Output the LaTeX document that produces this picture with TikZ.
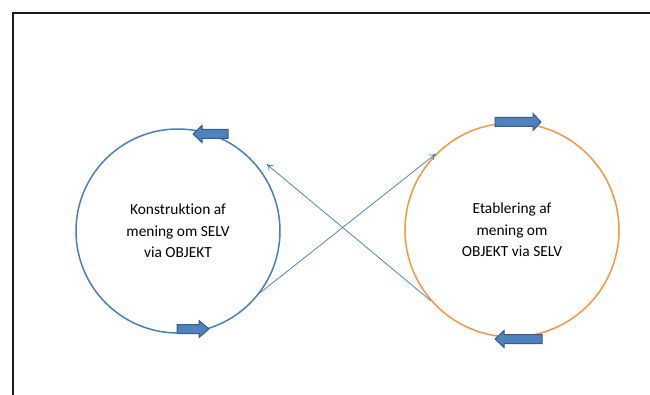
\documentclass[tikz,border=0pt]{standalone}
\usepackage{fontspec}
\setmainfont[Ligatures=NoCommon]{Carlito}
\usetikzlibrary{arrows.meta,calc}
\definecolor{lblue}{HTML}{4A7EBB}
\definecolor{orangeone}{HTML}{F79646}
\definecolor{afill}{HTML}{4F81BD}
\definecolor{aedge}{HTML}{385D8A}
\newcommand{\blkarrow}[4]{\draw[blk] (#1,#4-4.5) -- (#2,#4-4.5) -- (#2,#4-8.5) -- (#3,#4) -- (#2,#4+8.5) -- (#2,#4+4.5) -- (#1,#4+4.5) -- cycle;}
\begin{document}
\begin{tikzpicture}[x=1pt,y=-1pt,
  ring/.style={circle, line width=1.5pt, inner sep=0pt, align=center, font=\fontsize{15.4}{21.5}\selectfont},
  link/.style={draw=lblue, line width=0.75pt, -{To[length=6pt,width=7pt]}},
  blk/.style={fill=afill, draw=aedge, line width=1pt, line join=miter}]
\useasboundingbox (0,0) rectangle (650,395);
\draw[line width=2pt, draw=black!90] (12.5,13.5) rectangle (700,450);
\node[ring, draw=lblue, minimum size=204pt] (L) at (178,231) {Konstruktion af\\mening om SELV\\via OBJEKT};
\node[ring, draw=orangeone, minimum size=214pt] (R) at (512,230) {Etablering af\\mening om\\OBJEKT via SELV};
\coordinate (t2) at ($(L.center)!1.08!(L.37)$);
\draw[link] (L.-37) -- (R.135);
\draw[link] (R.221) -- (t2);
\blkarrow{228}{202}{193}{134}
\blkarrow{177}{199}{209}{329}
\blkarrow{495}{533}{541}{122}
\blkarrow{542}{504}{495}{339}
\end{tikzpicture}
\end{document}
